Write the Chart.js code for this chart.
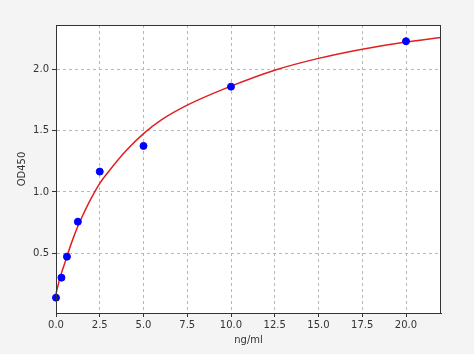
<!DOCTYPE html>
<html>
<head>
<meta charset="utf-8">
<script src="https://cdn.jsdelivr.net/npm/chart.js@4"></script>
<style>
  html, body { margin: 0; padding: 0; background: #f4f4f4; }
  #wrap { width: 474px; height: 354px; }
</style>
</head>
<body>
<div id="wrap"><canvas id="c" width="474" height="354"></canvas></div>
<script>
// standard points
const stdConc = [0, 0.3125, 0.625, 1.25, 2.5, 5, 10, 20];
const stdOD = [0.139, 0.302, 0.473, 0.758, 1.166, 1.375, 1.858, 2.228];

// fitted curve
const curveConc = [0, 0.1, 0.25, 0.5, 0.75, 1, 1.25, 1.5, 2, 2.5, 3, 4, 5, 6, 7.5, 10, 12.5, 15, 17.5, 20, 22];
const curveOD = [0.17, 0.23, 0.31, 0.42, 0.53, 0.63, 0.72, 0.80, 0.945, 1.07, 1.165, 1.335, 1.475, 1.585, 1.707, 1.862, 1.992, 2.088, 2.163, 2.222, 2.258];

const xTicks = [0, 2.5, 5, 7.5, 10, 12.5, 15, 17.5, 20];
const yTicks = [0.5, 1.0, 1.5, 2.0];

const frame = {
  id: 'frame',
  beforeDraw(chart) {
    const { ctx, chartArea: a } = chart;
    ctx.save();
    ctx.fillStyle = '#ffffff';
    ctx.fillRect(a.left, a.top, a.right - a.left, a.bottom - a.top);
    ctx.restore();
  },
  afterDraw(chart) {
    const { ctx, chartArea: a } = chart;
    ctx.save();
    ctx.strokeStyle = '#333333';
    ctx.lineWidth = 1;
    ctx.strokeRect(a.left + 0.5, a.top + 0.5, a.right - a.left - 1, a.bottom - a.top);
    ctx.restore();
  }
};

const gridOpts = {
  color: '#b8b8b8',
  tickColor: '#333333',
  tickBorderDash: [],
  tickLength: 4
};

new Chart(document.getElementById('c'), {
  type: 'scatter',
  data: {
    datasets: [
      {
        type: 'line',
        data: curveConc.map((x, i) => ({ x: x, y: curveOD[i] })),
        borderColor: '#e02020',
        borderWidth: 1.5,
        pointRadius: 0,
        cubicInterpolationMode: 'monotone',
        fill: false,
        order: 2
      },
      {
        data: stdConc.map((x, i) => ({ x: x, y: stdOD[i] })),
        backgroundColor: '#0000ff',
        borderColor: '#0000ff',
        pointRadius: 3.5,
        order: 1
      }
    ]
  },
  options: {
    responsive: false,
    animation: false,
    clip: false,
    layout: { padding: { top: 25, right: 33, left: 0, bottom: 0 } },
    plugins: { legend: { display: false }, tooltip: { enabled: false } },
    scales: {
      x: {
        type: 'linear',
        min: 0,
        max: 22,
        afterBuildTicks: s => { s.ticks = xTicks.map(v => ({ value: v })); },
        afterFit: s => { s.height = 41; },
        grid: gridOpts,
        border: { color: '#333333', dash: [3, 3] },
        ticks: {
          color: '#333333',
          font: { family: 'DejaVu Sans', size: 10 },
          padding: 2,
          maxRotation: 0,
          callback: v => v.toFixed(1)
        },
        title: {
          display: true,
          text: 'ng/ml',
          color: '#333333',
          font: { family: 'DejaVu Sans', size: 10 },
          padding: { top: 0, bottom: 8 }
        }
      },
      y: {
        type: 'linear',
        min: 0.014,
        max: 2.36,
        afterBuildTicks: s => { s.ticks = yTicks.map(v => ({ value: v })); },
        afterFit: s => { s.width = 56; },
        grid: gridOpts,
        border: { color: '#333333', dash: [3, 3] },
        ticks: {
          color: '#333333',
          font: { family: 'DejaVu Sans', size: 10 },
          padding: 3,
          callback: v => v.toFixed(1)
        },
        title: {
          display: true,
          text: 'OD450',
          color: '#333333',
          font: { family: 'DejaVu Sans', size: 10 },
          padding: { top: 16, bottom: 0 }
        }
      }
    }
  },
  plugins: [frame]
});
</script>
</body>
</html>
